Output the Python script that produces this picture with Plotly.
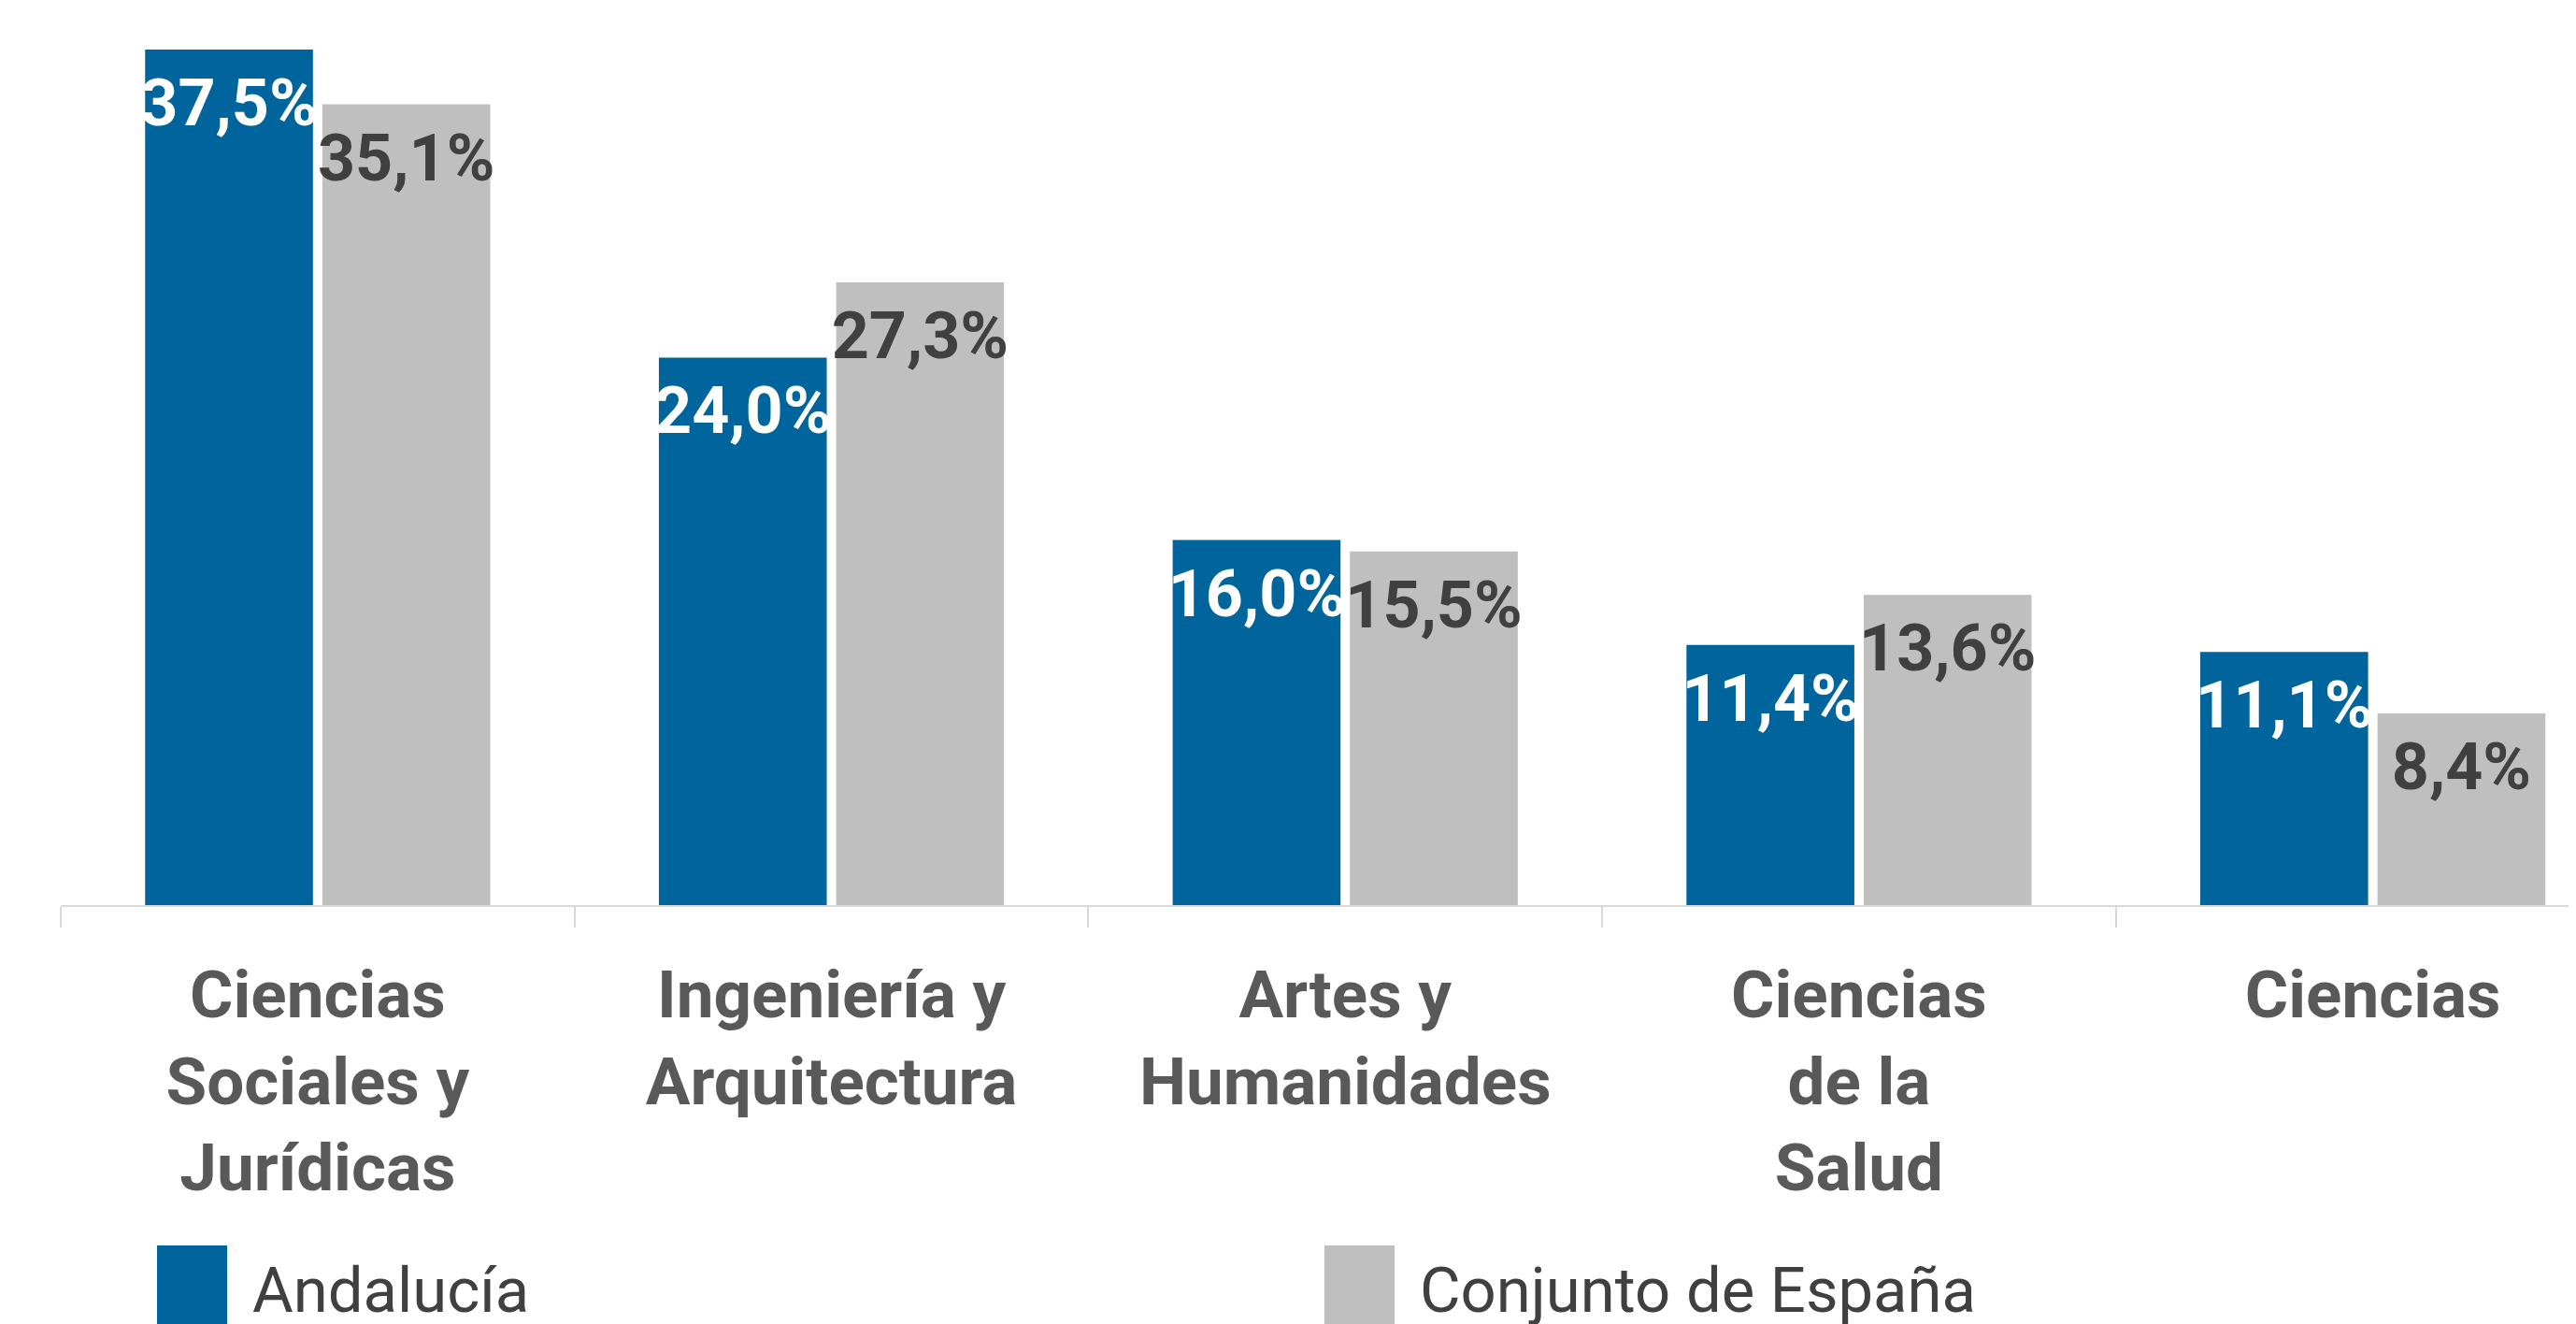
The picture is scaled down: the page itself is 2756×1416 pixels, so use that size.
import plotly.graph_objects as go

categories = ["Ciencias<br>Sociales y<br>Jurídicas", "Ingeniería y<br>Arquitectura",
              "Artes y<br>Humanidades", "Ciencias<br>de la<br>Salud", "Ciencias"]
series_names = ["Andalucía", "Conjunto de España"]
andalucia = [37.5, 24.0, 16.0, 11.4, 11.1]
espana = [35.1, 27.3, 15.5, 13.6, 8.4]

colors = ["#00659c", "#bfbfbf"]
text_colors = ["#ffffff", "#404040"]

def fmt(v):
    return f"{v:.1f}".replace(".", ",") + "%"

# figure pixel geometry (page has an 8px body margin)
W, H = 2756, 1416
ML, MT, MB = 57, 0, 456
plot_h = H - MT - MB
plot_w = W - ML
PX_PER_UNIT = 24.4

fig = go.Figure()
for name, vals, col in zip(series_names, [andalucia, espana], colors):
    fig.add_trace(go.Bar(
        x=categories, y=vals, name=name,
        marker=dict(color=col, line=dict(width=0)),
        showlegend=False, hoverinfo="x+y",
    ))
# value labels placed just under each bar top, grouped like the bars
for name, vals, tcol in zip(series_names, [andalucia, espana], text_colors):
    fig.add_trace(go.Scatter(
        x=categories, y=vals, name=name,
        mode="markers+text", text=[fmt(v) for v in vals],
        textposition="bottom center",
        marker=dict(size=44, opacity=0),
        textfont=dict(family="Roboto", size=70, color=tcol, weight="bold"),
        cliponaxis=False, showlegend=False, hoverinfo="skip",
    ))

fig.update_layout(
    width=W, height=H,
    margin=dict(l=ML, r=0, t=MT, b=MB, autoexpand=False),
    paper_bgcolor="white", plot_bgcolor="white",
    barmode="group", bargap=0.31, bargroupgap=0.053,
    scattermode="group", scattergap=0.31,
    font=dict(family="Roboto"),
    showlegend=False,
)
fig.update_xaxes(
    type="category", range=[-0.5, 4.41], automargin=False,
    showline=True, linecolor="#d9d9d9", linewidth=2,
    ticks="outside", tickson="boundaries", ticklen=22, tickcolor="#d9d9d9", tickwidth=2,
    ticklabelstandoff=33,
    tickfont=dict(family="Roboto", size=71, color="#595959", weight="bold"),
    showgrid=False, zeroline=False,
)
fig.update_yaxes(range=[0, plot_h / PX_PER_UNIT], visible=False, showgrid=False,
                 zeroline=False, automargin=False)

# custom legend (large square swatches), in figure pixels
def px_to_paper_x(px):
    return (px - ML) / plot_w

def px_to_paper_y(py):
    return (MT + plot_h - py) / plot_h

legend_x = [160, 1409]
for name, col, lx in zip(series_names, colors, legend_x):
    fig.add_shape(type="rect", xref="paper", yref="paper",
                  x0=px_to_paper_x(lx), x1=px_to_paper_x(lx + 75),
                  y0=px_to_paper_y(1324), y1=px_to_paper_y(1440),
                  fillcolor=col, line=dict(width=0), layer="above")
    fig.add_annotation(xref="paper", yref="paper",
                       x=px_to_paper_x(lx + 100), y=px_to_paper_y(1372),
                       xanchor="left", yanchor="middle", showarrow=False,
                       text=name, font=dict(family="Roboto", size=67, color="#404040"))

fig.write_html("out.html")
